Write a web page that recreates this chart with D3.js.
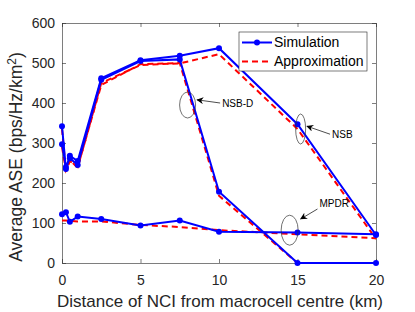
<!DOCTYPE html>
<html>
<head>
<meta charset="utf-8">
<script src="https://cdn.jsdelivr.net/npm/d3@7"></script>
<style>
  body { margin: 0; background: #fff; }
  text { font-family: "Liberation Sans", Arial, sans-serif; }
</style>
</head>
<body>
<div id="chart"></div>
<script>
// distance of NCI from macrocell centre (km)
const distances = [0, 0.25, 0.5, 1, 2.5, 5, 7.5, 10, 15, 20];

// simulation curves
const simNSB  = [342, 235, 268, 255, 462, 507, 518, 537, 347, 70];
const simNSBD = [297, 240, 262, 245, 458, 505, 509, 178, 0, 0];
const simMPDR = [122, 127, 103, 116, 110, 94, 106, 78, 76, 72];

// approximation curves
const apxNSB  = [335, 228, 258, 238, 450, 495, 499, 522, 335, 60];
const apxNSBD = [290, 232, 255, 240, 445, 497, 500, 168, 0, 0];
const apxMPDR = [106, 106, 105, 104, 104, 95, 90, 82, 72, 62];

const xTicks = [0, 5, 10, 15, 20];
const yTicks = [0, 100, 200, 300, 400, 500, 600];

const width = 415, height = 312;
const margin = {top: 23, right: 39, bottom: 49, left: 62};
const innerW = width - margin.left - margin.right;
const innerH = height - margin.top - margin.bottom;

const svg = d3.select('#chart').append('svg')
    .attr('width', width)
    .attr('height', height);

const g = svg.append('g')
    .attr('transform', `translate(${margin.left},${margin.top})`);

const x = d3.scaleLinear().domain([0, 20]).range([0, innerW]);
const y = d3.scaleLinear().domain([0, 600]).range([innerH, 0]);

const axisColor = '#262626';

// axes with inward ticks, box all round
const styleAxis = sel => {
    sel.select('.domain').attr('stroke', axisColor).attr('stroke-width', 0.6);
    sel.selectAll('.tick line').attr('stroke', axisColor).attr('stroke-width', 0.6);
    sel.selectAll('.tick text').attr('fill', axisColor).style('font-size', '14px');
};

g.append('g')
    .attr('transform', `translate(0,${innerH})`)
    .call(d3.axisBottom(x).tickValues(xTicks).tickSizeInner(-4).tickSizeOuter(0).tickPadding(12))
    .call(styleAxis);
g.append('g')
    .call(d3.axisTop(x).tickValues(xTicks).tickSizeInner(-4).tickSizeOuter(0).tickFormat(''))
    .call(styleAxis);
g.append('g')
    .call(d3.axisLeft(y).tickValues(yTicks).tickSizeInner(-4).tickSizeOuter(0).tickPadding(7))
    .call(styleAxis);
g.append('g')
    .attr('transform', `translate(${innerW},0)`)
    .call(d3.axisRight(y).tickValues(yTicks).tickSizeInner(-4).tickSizeOuter(0).tickFormat(''))
    .call(styleAxis);

// axis titles
svg.append('text')
    .attr('x', margin.left + innerW / 2 + 1)
    .attr('y', 307)
    .attr('text-anchor', 'middle')
    .attr('fill', axisColor)
    .style('font-size', '17px')
    .text('Distance of NCI from macrocell centre (km)');

const yTitle = svg.append('text')
    .attr('transform', 'translate(22,157) rotate(-90)')
    .attr('text-anchor', 'middle')
    .attr('fill', axisColor)
    .style('font-size', '17.5px');
yTitle.append('tspan').text('Average ASE (bps/Hz/km');
yTitle.append('tspan').attr('dy', -6).style('font-size', '12px').text('2');
yTitle.append('tspan').attr('dy', 6).text(')');

const line = d3.line()
    .x((d, i) => x(distances[i]))
    .y(d => y(d));

const approx = [apxNSB, apxNSBD, apxMPDR];
const sims = [simNSB, simNSBD, simMPDR];

// approximations (red dashed) first, then simulations on top
g.selectAll('.apx')
    .data(approx)
    .join('path')
    .attr('class', 'apx')
    .attr('d', line)
    .attr('fill', 'none')
    .attr('stroke', '#ff0000')
    .attr('stroke-width', 2)
    .attr('stroke-dasharray', '6,4');

sims.forEach(series => {
    g.append('path')
        .attr('d', line(series))
        .attr('fill', 'none')
        .attr('stroke', '#0000ff')
        .attr('stroke-width', 2);
    g.append('g')
        .selectAll('circle')
        .data(series)
        .join('circle')
        .attr('cx', (d, i) => x(distances[i]))
        .attr('cy', d => y(d))
        .attr('r', 3)
        .attr('fill', '#0000ff');
});

// annotations: ellipse + arrow + label, given in data coordinates
const notes = [
    {label: 'NSB-D', cx: 8.0, cy: 395, rx: 8, ry: 13, tx: 10.2, ty: 400, ax: 8.6, ay: 408},
    {label: 'NSB', cx: 15.2, cy: 335, rx: 5, ry: 15, tx: 17.2, ty: 322, ax: 15.6, ay: 342},
    {label: 'MPDR', cx: 14.5, cy: 82, rx: 8.5, ry: 15, tx: 16.4, ty: 150, ax: 15.2, ay: 110}
];

svg.append('defs').append('marker')
    .attr('id', 'arrow')
    .attr('viewBox', '0 0 10 10')
    .attr('refX', 9).attr('refY', 5)
    .attr('markerWidth', 9).attr('markerHeight', 7)
    .attr('markerUnits', 'userSpaceOnUse')
    .attr('orient', 'auto')
    .append('path')
    .attr('d', 'M0,0 L10,5 L0,10 L3,5 Z')
    .attr('fill', '#000');

notes.forEach(n => {
    g.append('ellipse')
        .attr('cx', x(n.cx)).attr('cy', y(n.cy))
        .attr('rx', n.rx).attr('ry', n.ry)
        .attr('fill', 'none')
        .attr('stroke', '#333')
        .attr('stroke-width', 0.7);
    g.append('line')
        .attr('x1', x(n.tx) - 2).attr('y1', y(n.ty) + (n.label === 'MPDR' ? 6 : 0))
        .attr('x2', x(n.ax)).attr('y2', y(n.ay))
        .attr('stroke', '#000')
        .attr('stroke-width', 0.7)
        .attr('marker-end', 'url(#arrow)');
    g.append('text')
        .attr('x', x(n.tx)).attr('y', y(n.ty))
        .attr('dy', '0.35em')
        .attr('fill', '#000')
        .style('font-size', '10px')
        .text(n.label);
});

// legend
const legend = svg.append('g').attr('transform', 'translate(239,32)');
legend.append('rect')
    .attr('width', 128).attr('height', 39)
    .attr('fill', '#fff')
    .attr('stroke', axisColor)
    .attr('stroke-width', 0.6);
const legendItems = [
    {name: 'Simulation', color: '#0000ff', dash: null, dot: true},
    {name: 'Approximation', color: '#ff0000', dash: '6,4', dot: false}
];
legendItems.forEach((it, i) => {
    const row = legend.append('g').attr('transform', `translate(0,${10.5 + i * 19})`);
    row.append('line')
        .attr('x1', 3).attr('x2', 33)
        .attr('stroke', it.color)
        .attr('stroke-width', 2)
        .attr('stroke-dasharray', it.dash);
    if (it.dot) {
        row.append('circle').attr('cx', 18).attr('r', 3).attr('fill', it.color);
    }
    row.append('text')
        .attr('x', 35).attr('dy', '0.35em')
        .attr('fill', '#000')
        .style('font-size', '14px')
        .text(it.name);
});
</script>
</body>
</html>
